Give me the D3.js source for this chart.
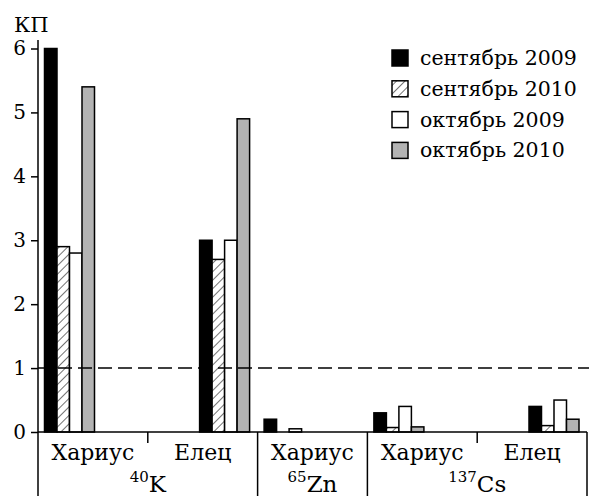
<!DOCTYPE html>
<html>
<head>
<script src="https://cdn.jsdelivr.net/npm/d3@7"></script>
</head>
<body style="margin:0">
<svg id="chart" width="589" height="496"></svg>
<script>
// ---- data ----
const fish = ["Хариус", "Елец", "Хариус", "Хариус", "Елец"];
const isotopeMass = ["40", "65", "137"];
const isotopeSymbol = ["K", "Zn", "Cs"];
const isotopeOfCategory = [0, 0, 1, 2, 2];
const seriesNames = ["сентябрь 2009", "сентябрь 2010", "октябрь 2009", "октябрь 2010"];
const sep2009 = [6.0, 3.0, 0.2, 0.3, 0.4];
const sep2010 = [2.9, 2.7, 0, 0.07, 0.1];
const oct2009 = [2.8, 3.0, 0.05, 0.4, 0.5];
const oct2010 = [5.4, 4.9, 0, 0.08, 0.2];
const yTicks = [0, 1, 2, 3, 4, 5, 6];
const yLabel = "КП";
const threshold = 1;

const seriesValues = [sep2009, sep2010, oct2009, oct2010];

// ---- layout ----
const FONT = '"DejaVu Serif"';
const svg = d3.select("#chart");
const axisX = 38, x0 = 38, x1 = 587, y0 = 432, yTop = 40, bottom = 496;

const y = d3.scaleLinear().domain([0, 6]).range([y0, 48.5]);
const x = d3.scaleBand().domain(d3.range(fish.length)).range([x0, x1]).padding(0);
const groupW = 50;
function groupStart(i) {
  return fish[i] === "Елец" ? x(i) + x.bandwidth() - 58 : x(i) + 6.5;
}
const xs = d3.scaleBand().domain(d3.range(seriesNames.length)).range([0, groupW]).padding(0);

// hatch pattern
const defs = svg.append("defs");
const pat = defs.append("pattern")
  .attr("id", "hatch").attr("patternUnits", "userSpaceOnUse")
  .attr("width", 6).attr("height", 6)
  .attr("patternTransform", "rotate(45)");
pat.append("rect").attr("width", 6).attr("height", 6).attr("fill", "#fff");
pat.append("line").attr("x1", 0).attr("y1", 0).attr("x2", 0).attr("y2", 6)
  .attr("stroke", "#000").attr("stroke-width", 1.1);

const fills = ["#000", "url(#hatch)", "#fff", "#b3b3b3"];

// bars
const barData = [];
seriesValues.forEach((vals, s) => vals.forEach((v, i) => { if (v > 0) barData.push({ s, i, v }); }));
svg.append("g").selectAll("rect").data(barData).join("rect")
  .attr("x", d => groupStart(d.i) + xs(d.s))
  .attr("y", d => y(d.v))
  .attr("width", xs.bandwidth())
  .attr("height", d => y0 - y(d.v))
  .attr("fill", d => fills[d.s])
  .attr("stroke", "#000").attr("stroke-width", 1.5);

// y axis
const yAxis = d3.axisLeft(y).tickValues(yTicks).tickSize(7).tickPadding(5).tickFormat(d3.format("d"));
const ga = svg.append("g").attr("transform", `translate(${axisX},0)`).call(yAxis);
ga.attr("font-family", "DejaVu Serif").attr("font-size", 20);
ga.select(".domain").remove();
ga.selectAll(".tick line").attr("stroke", "#000").attr("stroke-width", 1.5);
ga.selectAll(".tick text").style("font-family", FONT).style("font-size", "20px").attr("fill", "#000");
svg.append("line").attr("x1", axisX).attr("x2", axisX).attr("y1", yTop).attr("y2", bottom)
  .attr("stroke", "#000").attr("stroke-width", 1.5);

svg.append("text").attr("x", 14).attr("y", 32)
  .style("font-family", FONT).style("font-size", "21px").text(yLabel);

// x baseline
svg.append("line").attr("x1", axisX).attr("x2", x1).attr("y1", y0).attr("y2", y0)
  .attr("stroke", "#000").attr("stroke-width", 1.5);

// category separators
d3.range(1, fish.length + 1).forEach(i => {
  const xx = i < fish.length ? x(i) : x1;
  const full = i === fish.length || isotopeOfCategory[i] !== isotopeOfCategory[i - 1];
  svg.append("line").attr("x1", xx).attr("x2", xx).attr("y1", y0).attr("y2", full ? bottom : y0 + 11)
    .attr("stroke", "#000").attr("stroke-width", 1.5);
});

// fish labels
svg.append("g").selectAll("text").data(fish).join("text")
  .attr("x", (d, i) => x(i) + x.bandwidth() / 2)
  .attr("y", 460).attr("text-anchor", "middle")
  .style("font-family", FONT).style("font-size", "22px")
  .text(d => d);

// isotope labels
isotopeMass.forEach((m, k) => {
  const cats = d3.range(fish.length).filter(i => isotopeOfCategory[i] === k);
  const cx = (x(cats[0]) + x(cats[cats.length - 1]) + x.bandwidth()) / 2;
  const t = svg.append("text").attr("x", cx).attr("y", 492).attr("text-anchor", "middle")
    .style("font-family", FONT).style("font-size", "23px");
  t.append("tspan").style("font-family", FONT).style("font-size", "15px").attr("dy", -10).text(m);
  t.append("tspan").style("font-family", FONT).style("font-size", "23px").attr("dy", 10).text(isotopeSymbol[k]);
});

// threshold dashed line
svg.append("line").attr("x1", axisX).attr("x2", 589).attr("y1", y(threshold)).attr("y2", y(threshold))
  .attr("stroke", "#000").attr("stroke-width", 1.5).attr("stroke-dasharray", "14,6");

// legend
const lg = svg.append("g").attr("transform", "translate(392,0)");
seriesNames.forEach((name, s) => {
  const cy = 58 + s * 30.8;
  lg.append("rect").attr("x", 0).attr("y", cy - 8).attr("width", 16).attr("height", 16)
    .attr("fill", fills[s]).attr("stroke", "#000").attr("stroke-width", 1.5);
  lg.append("text").attr("x", 28).attr("y", cy + 7)
    .style("font-family", FONT).style("font-size", "20.5px").text(name);
});
</script>
</body>
</html>
